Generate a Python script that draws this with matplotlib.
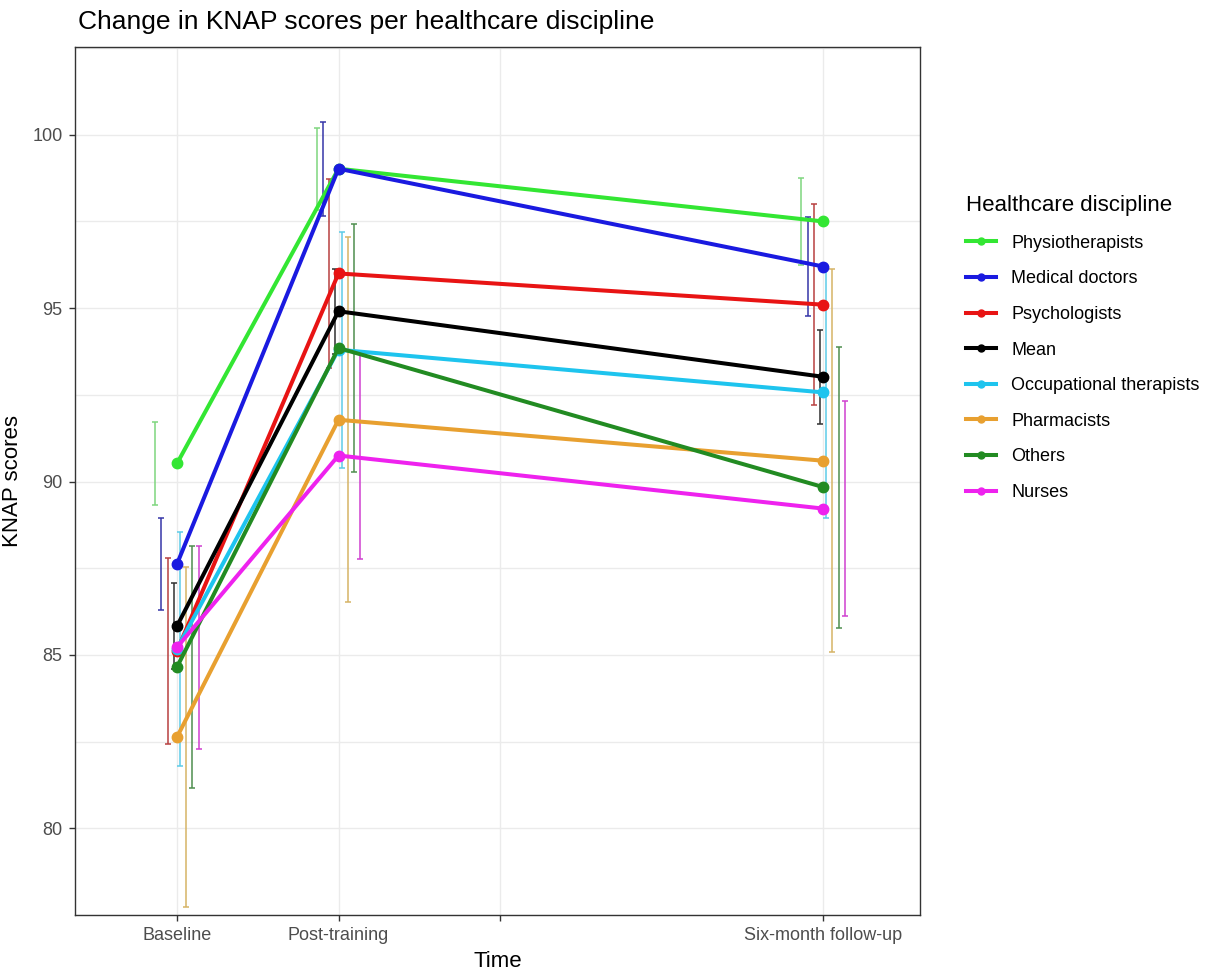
import matplotlib
matplotlib.use("Agg")
import matplotlib.pyplot as plt
from matplotlib.lines import Line2D
import numpy as np

plt.rcParams['font.family'] = ['Liberation Sans', 'DejaVu Sans']

# ---- data ----
time_pos = [0, 1.5, 6]
tick_pos = [0, 1.5, 3, 6]
tick_labels = ["Baseline", "Post-training", "", "Six-month follow-up"]

disciplines = ["Physiotherapists", "Medical doctors", "Psychologists", "Mean",
               "Occupational therapists", "Pharmacists", "Others", "Nurses"]
colors = ["#33E633", "#1A1AE0", "#E81414", "#000000",
          "#1EC4EE", "#E8A030", "#228B22", "#EE22EE"]
err_colors = ["#7ED67E", "#3535A8", "#B84040", "#303030",
              "#5CCCE8", "#D6B466", "#4E8E4E", "#D040D0"]

physio = [90.52, 99.02, 97.50]
physio_err = [1.20, 1.18, 1.25]
medical = [87.62, 99.02, 96.20]
medical_err = [1.33, 1.35, 1.42]
psych = [85.12, 96.00, 95.10]
psych_err = [2.68, 2.72, 2.89]
mean_all = [85.83, 94.91, 93.02]
mean_err = [1.23, 1.22, 1.36]
ot = [85.18, 93.80, 92.57]
ot_err = [3.37, 3.40, 3.62]
pharm = [82.63, 91.78, 90.60]
pharm_err = [4.90, 5.26, 5.53]
others = [84.65, 93.85, 89.84]
others_err = [3.50, 3.57, 4.05]
nurses = [85.22, 90.75, 89.22]
nurses_err = [2.92, 2.99, 3.09]

values = [physio, medical, psych, mean_all, ot, pharm, others, nurses]
errors = [physio_err, medical_err, psych_err, mean_err, ot_err, pharm_err,
          others_err, nurses_err]

# ---- figure ----
fig = plt.figure(figsize=(12.12, 9.74), dpi=100)
ax = fig.add_axes([75/1212, 1-915/974, (920-75)/1212, (915-47)/974])

dodge = 0.0576
n = len(disciplines)
for i in range(n):
    off = (i - (n-1)/2) * dodge
    xs = np.array(time_pos) + off
    ax.errorbar(xs, values[i], yerr=errors[i], fmt='none', ecolor=err_colors[i],
                elinewidth=1.1, capsize=2.2, capthick=1.1, zorder=2)

for i in range(n):
    ax.plot(time_pos, values[i], color=colors[i], lw=2.9, marker='o',
            markersize=7.5, zorder=3)

ax.set_xlim(-0.947, 6.90)
ax.set_ylim(77.59, 102.53)
ax.set_xticks(tick_pos)
ax.set_xticklabels(tick_labels)
ax.set_yticks([80, 85, 90, 95, 100])
ax.set_yticks(np.arange(77.5, 102.6, 2.5), minor=True)

ax.grid(True, which='major', color='#EBEBEB', lw=1.0, zorder=0)
ax.grid(True, which='minor', axis='y', color='#EBEBEB', lw=1.0, zorder=0)
ax.set_axisbelow(True)
ax.tick_params(which='minor', length=0)
ax.tick_params(which='major', length=4, color='#333333', width=1,
               labelsize=13, labelcolor='#4D4D4D', pad=5)
for s in ax.spines.values():
    s.set_color('#333333')
    s.set_linewidth(1.0)

ax.set_xlabel("Time", fontsize=16, labelpad=5)
ax.set_ylabel("KNAP scores", fontsize=16, labelpad=7)
fig.text(78/1212, 1-22/974, "Change in KNAP scores per healthcare discipline",
         fontsize=19, ha='left', va='center')

handles = [Line2D([0], [0], color=c, lw=2.9, marker='o', markersize=5)
           for c in colors]
leg = fig.legend(handles, disciplines, loc='upper left',
                 bbox_to_anchor=(959/1212, 1-188/974), frameon=False,
                 title="Healthcare discipline", fontsize=13,
                 title_fontsize=16, handlelength=1.65, labelspacing=1.03,
                 handletextpad=0.85, alignment='left', borderaxespad=0)

fig.savefig("out.png", dpi=100, facecolor='white')
